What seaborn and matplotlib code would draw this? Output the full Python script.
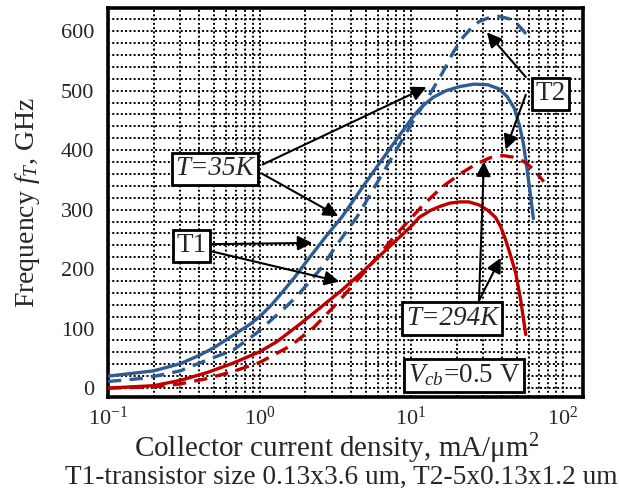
import numpy as np
import pandas as pd
import matplotlib
matplotlib.use("Agg")
import matplotlib.pyplot as plt
from matplotlib.ticker import MultipleLocator, NullFormatter, LogLocator
import seaborn as sns

# current density (mA/um^2) and fT (GHz)
j_35_t1 = [0.1, 0.2, 0.3, 0.4, 0.5, 0.7, 0.85, 1.0, 1.2, 1.4, 1.7, 2.0, 2.8, 3.5, 5.0, 7.5, 10, 11, 12, 14, 17, 21, 26, 32, 38, 43, 48, 52, 55, 58, 61, 64]
f_35_t1 = [20, 29, 41, 55, 68, 92, 106, 120, 140, 160, 186, 210, 258, 288, 345, 408, 452, 465, 475, 489, 500, 507, 511, 510, 503, 490, 470, 440, 411, 370, 328, 285]

j_35_t2 = [0.1, 0.18, 0.3, 0.42, 0.67, 0.95, 1.5, 1.8, 2.5, 3.3, 4.4, 5.5, 7.2, 10, 13, 16, 19, 22, 25, 28, 32, 38, 44, 50, 55, 60]
f_35_t2 = [11, 17, 29, 44, 64, 92, 137, 157, 199, 244, 288, 330, 381, 443, 490, 529, 565, 590, 606, 616, 622, 625, 621, 612, 601, 588]

j_294_t1 = [0.1, 0.2, 0.3, 0.45, 0.67, 1.0, 1.3, 1.9, 2.4, 3.5, 5.0, 7.2, 10, 11.3, 13.5, 15.3, 18, 21, 24, 28, 32, 36, 39, 42, 45, 49, 53, 57]
f_294_t1 = [0, 4, 13, 26, 42, 61, 78, 110, 131, 165, 200, 238, 272, 287, 299, 305, 311, 313, 313, 308, 299, 287, 271, 249, 225, 193, 145, 90]

j_294_t2 = [0.1, 0.2, 0.3, 0.45, 0.67, 1.0, 1.6, 2.3, 3.2, 5.0, 8.0, 12, 16, 21, 27, 33, 40, 48, 56, 64, 75]
f_294_t2 = [0, 2, 7, 16, 28, 43, 71, 103, 141, 197, 259, 308, 338, 360, 377, 387, 391, 388, 380, 368, 347]

blue = "#2F5D93"
red = "#C00000"

sns.set_style("white")
plt.rcParams["font.family"] = ["Liberation Serif", "DejaVu Serif"]
plt.rcParams["mathtext.fontset"] = "custom"
plt.rcParams["mathtext.rm"] = "Liberation Serif"
plt.rcParams["mathtext.it"] = "Liberation Serif:italic"
plt.rcParams["mathtext.bf"] = "Liberation Serif:bold"

fig = plt.figure(figsize=(6.19, 4.95), dpi=100)
ax = fig.add_axes([108/619, 1-397/495, (583-108)/619, (397-8)/495])

sns.lineplot(x=j_35_t1, y=f_35_t1, color=blue, lw=2.4, sort=False, estimator=None, ax=ax, zorder=3)
sns.lineplot(x=j_35_t2, y=f_35_t2, color=blue, lw=2.4, ls=(0, (4, 2.5)), sort=False, estimator=None, ax=ax, zorder=3)
sns.lineplot(x=j_294_t1, y=f_294_t1, color=red, lw=2.4, sort=False, estimator=None, ax=ax, zorder=3)
sns.lineplot(x=j_294_t2, y=f_294_t2, color=red, lw=2.4, ls=(0, (4, 2.5)), sort=False, estimator=None, ax=ax, zorder=3)

ax.set_xscale("log")
ax.set_xlim(0.1, 136)
ax.set_ylim(-15, 639)
ax.yaxis.set_major_locator(MultipleLocator(100))
ax.yaxis.set_minor_locator(MultipleLocator(20))
ax.xaxis.set_major_locator(LogLocator(base=10))
ax.xaxis.set_minor_locator(LogLocator(base=10, subs=np.arange(2, 10)))
ax.xaxis.set_minor_formatter(NullFormatter())
ax.grid(True, which="both", color="k", ls=(0, (1, 1.2)), lw=1.4, zorder=0)
ax.set_axisbelow(True)
ax.tick_params(which="both", length=0, labelsize=16)
ax.tick_params(axis="y", pad=10)
ax.tick_params(axis="x", pad=7)
for s in ax.spines.values():
    s.set_color("k")
    s.set_linewidth(2.6)

ax.set_ylabel(r"Frequency $f_T$, GHz", fontsize=20)
ax.yaxis.set_label_coords(-0.14, 0.5)
ax.set_xlabel(r"Collector current density, mA/μm$^2$", fontsize=21)
ax.xaxis.set_label_coords(0.482, -0.088)

box = dict(boxstyle="square,pad=0.13", fc="white", ec="k", lw=2)
arr = dict(arrowstyle="-|>", color="k", lw=1.5, mutation_scale=22, shrinkA=0, shrinkB=0)

def label(x, y, s, **kw):
    ax.text(x, y, s, fontsize=19.5, ha="center", va="center", bbox=box, zorder=6, **kw)

def arrow(tail, head):
    ax.annotate("", xy=head, xytext=tail, arrowprops=arr, zorder=5)

arrow((1.05, 376), (12.6, 506))
arrow((1.03, 361), (3.3, 289))
label(0.506, 369, "T=35K", style="italic")

arrow((0.48, 242), (2.23, 244))
arrow((0.48, 230), (3.36, 179))
label(0.357, 239, "T1")

arrow((57, 523), (31.6, 598))
arrow((57, 493), (42, 401))
label(83, 495, "T2")

arrow((28, 147), (30.2, 381))
arrow((28, 147), (39, 219))
label(18.6, 117, "T=294K", style="italic")

label(22.3, 21, r"$V_{cb}$=0.5 V")

fig.text(65/619, 1-477/495, "T1-transistor size 0.13x3.6 um, T2-5x0.13x1.2 um",
         fontsize=19.7, ha="left", va="center")

fig.savefig("out.png", dpi=100)
